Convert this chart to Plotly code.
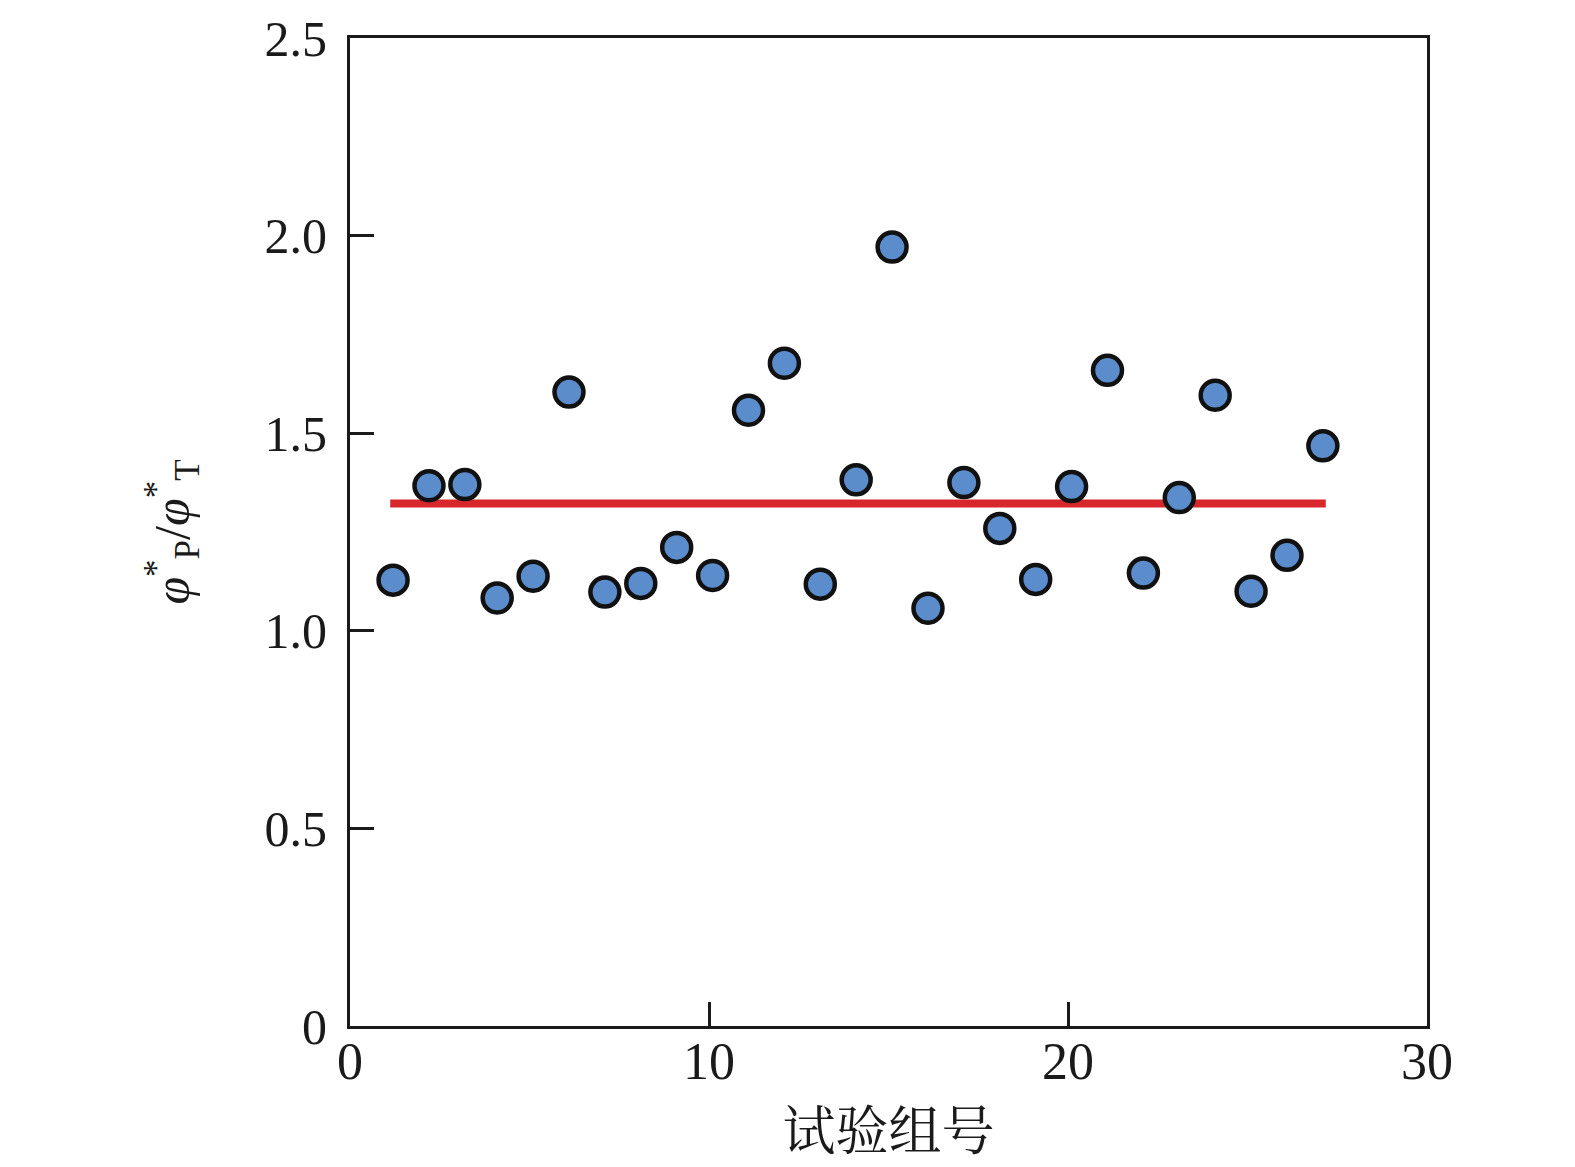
import plotly.graph_objects as go

# 试验组号 and measured ratio phi*_P / phi*_T
group_x = [1.2, 2.2, 3.2, 4.1, 5.1, 6.1, 7.1, 8.1, 9.1, 10.1, 11.1, 12.1, 13.1, 14.1,
           15.1, 16.1, 17.1, 18.1, 19.1, 20.1, 21.1, 22.1, 23.1, 24.1, 25.1, 26.1, 27.1]
ratio = [1.128, 1.367, 1.370, 1.083, 1.138, 1.604, 1.098, 1.120, 1.211, 1.140, 1.558,
         1.677, 1.118, 1.382, 1.971, 1.057, 1.375, 1.259, 1.130, 1.365, 1.659, 1.146,
         1.337, 1.596, 1.100, 1.191, 1.468]

# mean line
mean_x = [1.12, 27.18]
mean_y = [1.322, 1.322]

y_ticks = [0, 0.5, 1.0, 1.5, 2.0, 2.5]
y_ticktext = ["0", "0.5", "1.0", "1.5", "2.0", "2.5"]
x_ticks = [0, 10, 20, 30]

serif = "Liberation Serif, Times New Roman, serif"

fig = go.Figure()
fig.add_trace(go.Scatter(x=mean_x, y=mean_y, mode="lines",
                         line=dict(color="#d8262d", width=8), showlegend=False))
fig.add_trace(go.Scatter(x=group_x, y=ratio, mode="markers",
                         marker=dict(size=29, color="#5b8ccb",
                                     line=dict(color="#111111", width=4.5)),
                         showlegend=False))

axis_common = dict(showline=True, linecolor="#1a1a1a", linewidth=3, mirror=True,
                   ticks="inside", ticklen=24, tickwidth=3, tickcolor="#1a1a1a",
                   showgrid=False, zeroline=False, automargin=False)

fig.update_xaxes(range=[0, 30], tickvals=x_ticks, ticklabelstandoff=-12,
                 tickfont=dict(family=serif, size=52, color="#1a1a1a"),
                 title=dict(text="试验组号", standoff=24,
                            font=dict(family="Noto Serif CJK SC, Noto Sans CJK SC, serif",
                                      size=53, color="#1a1a1a")),
                 **axis_common)
fig.update_yaxes(range=[0, 2.5], tickvals=y_ticks, ticktext=y_ticktext,
                 ticklabelstandoff=10,
                 tickfont=dict(family=serif, size=50, color="#1a1a1a"),
                 title=dict(text="<i>φ</i><sup>*</sup><sub>P</sub>/<i>φ</i><sup>*</sup><sub>T</sub>",
                            standoff=60,
                            font=dict(family=serif, size=50, color="#1a1a1a")),
                 **axis_common)

fig.update_layout(width=1575, height=1167,
                  margin=dict(l=342, r=156, t=30, b=149),
                  plot_bgcolor="white", paper_bgcolor="white")

fig.write_html("out.html")
